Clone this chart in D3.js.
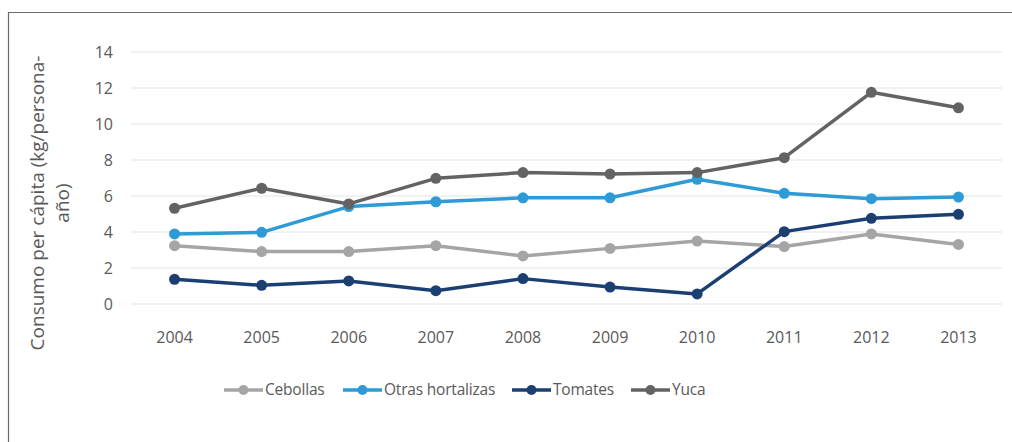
<!DOCTYPE html>
<html>
<head>
<meta charset="utf-8">
<script src="https://cdn.jsdelivr.net/npm/d3@7"></script>
<style>
  body { margin: 0; background: #fff; }
  text { font-family: "Open Sans", sans-serif; fill: #595959; }
</style>
</head>
<body>
<div class="wrapper"></div>
<script>
const WIDTH = 1012
const HEIGHT = 442
const margin = {left: 131, right: 10, top: 52, bottom: 138}

var years = ['2004', '2005', '2006', '2007', '2008', '2009', '2010', '2011', '2012', '2013']
var yTicks = [0, 2, 4, 6, 8, 10, 12, 14]
var seriesNames = ['Cebollas', 'Otras hortalizas', 'Tomates', 'Yuca']
var colors = ['#a5a5a5', '#2e9bd6', '#1b3f73', '#636363']

var cebollas = [3.24, 2.91, 2.91, 3.24, 2.67, 3.09, 3.5, 3.19, 3.89, 3.31]
var otras = [3.89, 3.98, 5.41, 5.68, 5.9, 5.9, 6.93, 6.15, 5.85, 5.94]
var tomates = [1.37, 1.04, 1.28, 0.74, 1.41, 0.94, 0.56, 4.02, 4.76, 4.98]
var yuca = [5.32, 6.43, 5.56, 6.98, 7.3, 7.22, 7.3, 8.13, 11.76, 10.9]

var seriesValues = [cebollas, otras, tomates, yuca]

var svg = d3.select(".wrapper")
    .append("svg")
    .attr("width", WIDTH)
    .attr("height", HEIGHT)

// outer frame (only top & left visible in the crop)
svg.append("path")
    .attr("d", `M8.5,${HEIGHT + 5} L8.5,12.5 L${WIDTH + 5},12.5`)
    .attr("fill", "none")
    .attr("stroke", "#6b6b6b")
    .attr("stroke-width", 1.2)

var x = d3.scaleBand(years, [margin.left, 1002])
var y = d3.scaleLinear([0, 14], [304, margin.top])

// gridlines
svg.append("g")
    .selectAll("line")
    .data(yTicks)
    .join("line")
    .attr("x1", margin.left)
    .attr("x2", 1002)
    .attr("y1", d => y(d))
    .attr("y2", d => y(d))
    .attr("stroke", "#e3e3e3")
    .attr("stroke-width", 1)

// y tick labels
svg.append("g")
    .selectAll("text")
    .data(yTicks)
    .join("text")
    .attr("x", 113)
    .attr("y", d => y(d))
    .attr("dy", "0.36em")
    .attr("text-anchor", "end")
    .style("font-size", "16px")
    .text(d => d)

// x tick labels
svg.append("g")
    .selectAll("text")
    .data(years)
    .join("text")
    .attr("x", d => x(d) + x.bandwidth() / 2)
    .attr("y", 343)
    .attr("text-anchor", "middle")
    .style("font-size", "16px")
    .text(d => d)

// y axis title
var title = svg.append("text")
    .attr("transform", "translate(44,203) rotate(-90)")
    .attr("text-anchor", "middle")
    .style("font-size", "19px")
title.append("tspan").attr("x", 0).attr("dy", 0).text("Consumo per cápita (kg/persona-")
title.append("tspan").attr("x", 0).attr("dy", "1.3em").text("año)")

var line = d3.line()
    .x((d, i) => x(years[i]) + x.bandwidth() / 2)
    .y(d => y(d))

var seriesG = svg.append("g")
    .selectAll("g")
    .data(seriesValues)
    .join("g")

seriesG.append("path")
    .attr("d", d => line(d))
    .attr("fill", "none")
    .attr("stroke", (d, i) => colors[i])
    .attr("stroke-width", 3.5)
    .attr("stroke-linejoin", "round")

seriesG.each(function(vals, i) {
    d3.select(this).selectAll("circle")
      .data(vals)
      .join("circle")
      .attr("cx", (d, j) => x(years[j]) + x.bandwidth() / 2)
      .attr("cy", d => y(d))
      .attr("r", 5.5)
      .attr("fill", colors[i])
})

// legend
var legendX = [224, 343, 512, 631]
var legend = svg.append("g")
    .selectAll("g")
    .data(seriesNames)
    .join("g")
    .attr("transform", (d, i) => `translate(${legendX[i]},390)`)

legend.append("line")
    .attr("x1", 0).attr("x2", 39)
    .attr("stroke", (d, i) => colors[i])
    .attr("stroke-width", 3.5)
legend.append("circle")
    .attr("cx", 19.5).attr("r", 5)
    .attr("fill", (d, i) => colors[i])
legend.append("text")
    .attr("x", 41)
    .attr("dy", "0.35em")
    .style("font-size", "15.5px")
    .style("letter-spacing", "-0.2px")
    .text(d => d)
</script>
</body>
</html>
